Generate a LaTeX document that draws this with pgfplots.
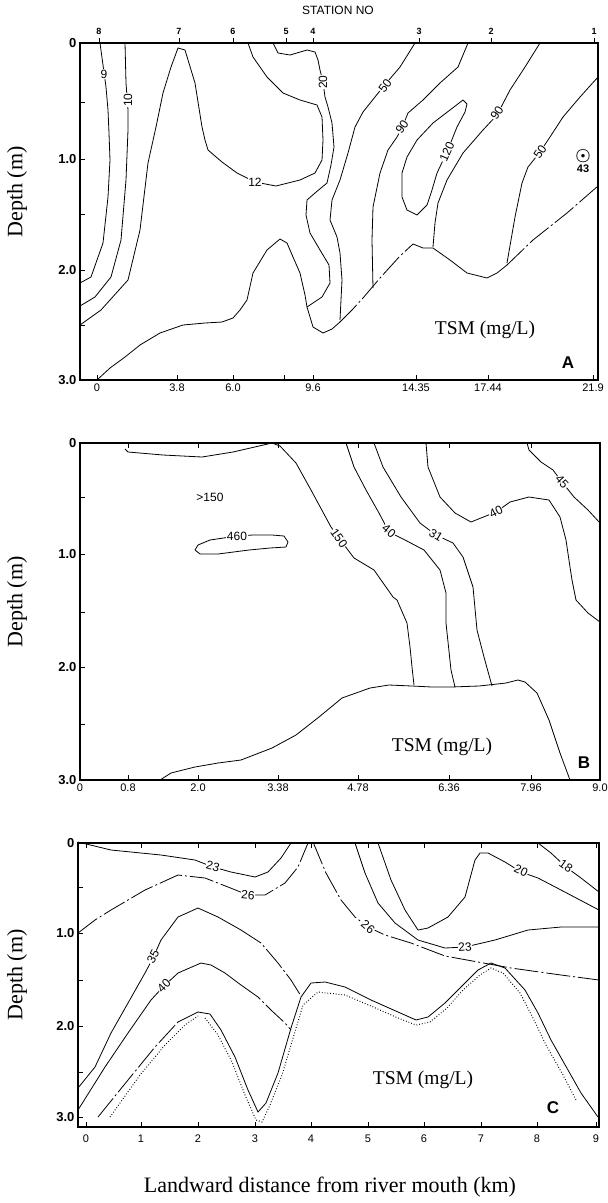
\documentclass[border=0pt]{standalone}
\usepackage{amsmath}
\usepackage{fontspec}
\setmainfont{Liberation Serif}
\setsansfont{Liberation Sans}
\usepackage{pgfplots}
\pgfplotsset{compat=1.18}
\pgfplotsset{
  panel/.style={
    scale only axis, clip=false, y dir=reverse, anchor=center,
    axis line style={line width=1.2pt},
    tick align=inside, major tick length=5pt,
    tick style={line width=0.8pt, black},
    ytick pos=left,
    yticklabel style={font=\fontsize{13}{13}\selectfont\sffamily\bfseries},
    xticklabel style={font=\fontsize{11}{11}\selectfont\sffamily},
    cycle list={{black, solid}},
    every axis plot/.append style={line width=0.8pt, black, no markers},
  },
}
\tikzset{
  lab/.style={font=\fontsize{12}{12}\selectfont\sffamily, fill=white, inner sep=0.5pt},
  dd/.style={dash pattern=on 24pt off 3pt on 2pt off 3pt},
  big/.style={font=\fontsize{22}{22}\selectfont},
}
\begin{document}
\begin{tikzpicture}
\path[use as bounding box] (0,0) rectangle (608pt,-1203pt);

% ---------------- panel A ----------------
\begin{axis}[panel, at={(339pt,-211.5pt)}, width=518pt, height=337pt,
  xmin=80, xmax=598, ymin=43, ymax=380, xtick pos=left,
  xtick={97,177,233,284,313,416,488,593},
  xticklabels={0,3.8,6.0,,9.6,14.35,17.44,21.9},
  ytick={43,102,159,214,270,325,380},
  yticklabels={0,,1.0,,2.0,,3.0}]
% 9
\addplot coordinates {(100,43) (103,65) (106,87) (108,110) (109,133) (110,160) (108,197) (103,243) (91,277) (80,283)};
% 10
\addplot coordinates {(125,43) (126,83) (128,110) (128,130) (126,180) (121,240) (111,277) (95,297) (80,306)};
% 12
\addplot coordinates {(80,325) (101,310) (128,280) (140,230) (148,163) (156,127) (163,93) (171,67) (178,48) (185,50) (195,83) (202,127) (205,140) (208,150) (222,162) (237,173) (255,182) (276,186) (300,180) (315,173) (322,160) (323,140) (322,117) (317,105) (300,100) (283,93) (267,77) (253,57) (248,43)};
% 20
\addplot coordinates {(273,43) (278,53) (290,55) (307,50) (315,52) (318,60) (320,70) (323,82) (325,97) (328,107) (332,123) (334,147) (331,165) (327,183) (315,193) (307,200) (306,215) (310,233) (320,250) (329,265) (330,283) (322,297) (307,307)};
% 50 left
\addplot coordinates {(415,43) (400,67) (383,87) (363,112) (355,127) (348,153) (340,180) (332,200) (330,220) (337,237) (340,253) (342,280) (340,320)};
% 90 left
\addplot coordinates {(468,43) (458,67) (440,83) (423,100) (408,113) (402,128) (397,137) (388,150) (380,173) (373,207) (372,240) (373,288)};
% 120
\addplot coordinates {(463,100) (467,104) (465,112) (457,127) (447,152) (437,173) (432,190) (427,205) (417,215) (407,210) (402,197) (402,173) (407,157) (417,140) (433,123) (450,110) (463,100)};
% 90 right
\addplot coordinates {(540,43) (525,67) (510,90) (497,115) (483,130) (463,153) (447,180) (438,203) (435,223) (433,247)};
% 50 right
\addplot coordinates {(598,77) (580,97) (563,117) (550,137) (540,152) (528,167) (522,183) (515,217) (507,263)};
% bottom
\addplot coordinates {(97,380) (110,368) (125,357) (140,345) (160,333) (183,325) (205,323) (222,322) (233,318) (240,310) (247,300) (253,273) (267,250) (280,239) (287,243) (293,257) (300,273) (305,295) (307,307) (313,327) (323,333) (332,329) (340,322)};
\addplot[dd] coordinates {(340,322) (352,310) (363,298) (380,278) (400,256) (413,244)};
\addplot coordinates {(413,244) (423,248) (433,248) (450,260) (467,273) (487,278) (497,273) (507,265)};
\addplot[dd] coordinates {(507,265) (533,240) (567,213) (598,186)};

\node[lab] at (axis cs:104,74) {9};
\node[lab, rotate=90] at (axis cs:128,100) {10};
\node[lab] at (axis cs:255,182) {12};
\node[lab, rotate=90] at (axis cs:323,82) {20};
\node[lab, rotate=53] at (axis cs:385,86) {50};
\node[lab, rotate=55] at (axis cs:402,127) {90};
\node[lab, rotate=66] at (axis cs:447,152) {120};
\node[lab, rotate=56] at (axis cs:497,113) {90};
\node[lab, rotate=55] at (axis cs:540,152) {50};
\node[font=\fontsize{16}{16}\selectfont] at (axis cs:583,156) {$\boldsymbol{\odot}$};
\node[font=\fontsize{11}{11}\selectfont\sffamily\bfseries] at (axis cs:583,169) {43};
\node[font=\fontsize{19.5}{19.5}\selectfont] at (axis cs:485,330) {TSM (mg/L)};
\node[font=\fontsize{17}{17}\selectfont\sffamily\bfseries] at (axis cs:568,363) {A};
\end{axis}
% station numbers on top of A
\begin{axis}[scale only axis, anchor=center, at={(339pt,-211.5pt)}, width=518pt, height=337pt,
  xmin=80, xmax=598, ymin=0, ymax=1,
  axis x line*=top, axis y line=none,
  axis line style={line width=1.2pt},
  tick align=outside, major tick length=5pt, tick style={line width=0.8pt, black},
  xtick={99,179,233,286,313,419,491,594},
  xticklabels={8,7,6,5,4,3,2,1},
  xticklabel style={font=\fontsize{9}{9}\selectfont\sffamily\bfseries}]
\end{axis}
\node[font=\fontsize{12}{12}\selectfont\sffamily] at (338pt,-10pt) {STATION NO};
\node[big, rotate=90] at (17pt,-192pt) {Depth (m)};

% ---------------- panel B ----------------
\begin{axis}[panel, at={(340pt,-611.5pt)}, width=520pt, height=337pt,
  xmin=80, xmax=600, ymin=443, ymax=780,
  xtick={80,128,198,278,358,449,531,600},
  xticklabels={0,0.8,2.0,3.38,4.78,6.36,7.96,9.0},
  ytick={443,497,554,612,667,724,780},
  yticklabels={0,,1.0,,2.0,,3.0}]
\addplot coordinates {(125,449) (128,452) (163,455) (202,457) (233,452) (272,443)};
% 150
\addplot coordinates {(272,443) (280,446) (296,463) (311,490) (331,527) (339,538) (354,558) (374,570) (393,597) (397,600) (407,623) (410,647) (412,667) (414,685)};
% 40
\addplot coordinates {(346,443) (354,467) (366,490) (379,513) (389,532) (405,540) (424,550) (440,570) (446,593) (446,623) (451,670) (455,687)};
% 31
\addplot coordinates {(374,443) (383,467) (401,497) (420,523) (436,535) (453,543) (463,557) (473,587) (477,630) (484,657) (492,686)};
% 40 right
\addplot coordinates {(426,443) (428,467) (440,497) (455,513) (471,522) (496,512) (510,502) (529,497) (549,500) (560,517) (566,540) (570,567) (572,580) (576,600) (588,613) (600,622)};
% 45
\addplot coordinates {(527,443) (529,450) (541,462) (553,470) (562,482) (574,497) (588,510) (600,523)};
% 460
\addplot coordinates {(195,550) (198,545) (210,540) (237,536) (253,535) (272,535) (284,536) (288,542) (286,547) (270,548) (249,550) (218,554) (200,554) (195,550)};
% bottom
\addplot coordinates {(160,780) (171,773) (195,767) (218,763) (241,760) (272,748) (296,735) (319,717) (342,698) (370,688) (389,685) (412,686) (432,687) (451,687) (479,686) (506,683) (518,680) (525,682) (537,693) (549,720) (560,753) (570,780)};

\node[lab, rotate=-55] at (axis cs:339,538) {150};
\node[lab, rotate=-40] at (axis cs:389,531) {40};
\node[lab, rotate=-31] at (axis cs:436,535) {31};
\node[lab, rotate=27] at (axis cs:496,512) {40};
\node[lab, rotate=-48] at (axis cs:562,482) {45};
\node[lab] at (axis cs:237,536) {460};
\node[font=\fontsize{12}{12}\selectfont\sffamily] at (axis cs:210,497) {>150};
\node[font=\fontsize{19.5}{19.5}\selectfont] at (axis cs:442,747) {TSM (mg/L)};
\node[font=\fontsize{17}{17}\selectfont\sffamily\bfseries] at (axis cs:584,763) {B};
\end{axis}
\node[big, rotate=90] at (17pt,-602pt) {Depth (m)};

% ---------------- panel C ----------------
\begin{axis}[panel, at={(338.5pt,-985pt)}, width=521pt, height=284pt,
  xmin=78, xmax=599, ymin=843, ymax=1127,
  xtick={86,141,198,255,311,368,424,481,537,596},
  xticklabels={0,1,2,3,4,5,6,7,8,9},
  xticklabel style={yshift=-4pt},
  ytick={843,887,933,980,1026,1072,1117},
  yticklabels={0,,1.0,,2.0,,3.0}]
% 23 upper
\addplot coordinates {(78,842) (111,850) (161,855) (195,860) (213,867) (231,872) (255,877) (268,872) (281,858) (291,843)};
% 26 upper
\addplot[dd] coordinates {(78,933) (95,920) (111,910) (145,890) (178,875) (205,878) (228,887) (248,895) (265,895) (285,883) (298,867) (308,843)};
% 35
\addplot coordinates {(78,1088) (95,1067) (111,1033) (128,1003) (145,973) (153,958) (161,940) (178,917) (198,908) (218,917) (241,930)};
\addplot[dd] coordinates {(241,930) (261,943) (278,963) (291,980) (301,996)};
% 40
\addplot coordinates {(78,1110) (105,1067) (128,1033) (151,1000) (163,987) (178,973) (201,963) (211,965) (225,973) (241,985)};
\addplot[dd] coordinates {(241,985) (258,997) (271,1010) (285,1023) (291,1030)};
% 26 middle
\addplot[dd] coordinates {(313,842) (326,873) (341,900) (355,917) (368,927) (385,935) (411,943) (445,956) (478,962) (511,968) (561,975) (599,980)};
% 23 middle
\addplot coordinates {(355,843) (365,873) (378,903) (395,923) (418,940) (445,948) (465,947) (495,940) (528,930) (561,927) (599,927)};
% 20
\addplot coordinates {(378,843) (391,880) (405,910) (418,930) (428,928) (448,917) (465,897) (475,860) (480,853) (488,853) (505,862) (521,872) (538,878) (561,890) (599,910)};
% 18
\addplot coordinates {(538,843) (551,853) (566,867) (581,878) (599,892)};
% bottom
\addplot[dd] coordinates {(98,1117) (128,1080) (155,1047) (178,1022)};
\addplot coordinates {(178,1022) (198,1012) (210,1014) (221,1030) (235,1057) (248,1090) (258,1112) (266,1103) (278,1073) (291,1028) (301,997) (311,983) (325,982) (345,987) (371,1000) (398,1012) (416,1020) (428,1017) (445,1003) (461,987) (478,970) (491,963) (505,968) (525,990) (538,1013) (551,1040) (568,1070) (581,1093) (598,1117)};
\addplot[dotted, line width=1pt] coordinates {(110,1117) (140,1075) (165,1045) (185,1025) (198,1016)};
\addplot[dotted, line width=1pt] coordinates {(205,1018) (218,1035) (232,1062) (245,1095) (256,1120) (262,1122) (270,1105) (282,1075) (294,1035) (303,1005) (318,992) (345,995) (371,1006) (398,1018) (416,1025) (430,1022) (447,1008) (463,990) (480,975) (491,968) (503,973) (520,993) (533,1018) (546,1045) (563,1075) (576,1100)};

\node[lab, rotate=-15] at (axis cs:213,866) {23};
\node[lab, rotate=-5] at (axis cs:248,895) {26};
\node[lab, rotate=62] at (axis cs:153,957) {35};
\node[lab, rotate=45] at (axis cs:164,986) {40};
\node[lab, rotate=-40] at (axis cs:368,927) {26};
\node[lab, rotate=5] at (axis cs:465,947) {23};
\node[lab, rotate=-25] at (axis cs:521,871) {20};
\node[lab, rotate=-35] at (axis cs:566,866) {18};
\node[font=\fontsize{19.5}{19.5}\selectfont] at (axis cs:423,1080) {TSM (mg/L)};
\node[font=\fontsize{17}{17}\selectfont\sffamily\bfseries] at (axis cs:553,1108) {C};
\end{axis}
\node[big, rotate=90] at (17pt,-975pt) {Depth (m)};
\node[big] at (330pt,-1187pt) {Landward distance from river mouth (km)};
\end{tikzpicture}
\end{document}
